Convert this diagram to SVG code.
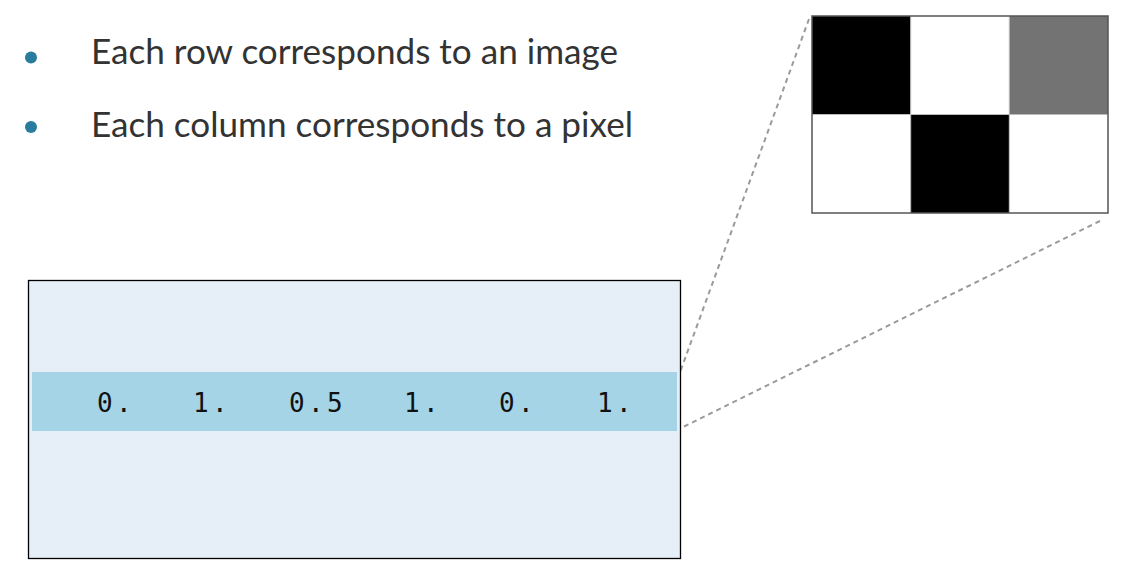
<svg xmlns="http://www.w3.org/2000/svg" width="1133" height="575" viewBox="0 0 1133 575">
<style>
.bul{fill:#2a7c9c}
.txt{font-family:Lato,"Open Sans",sans-serif;font-size:34px;fill:#333}
.num{font-family:"DejaVu Sans Mono",monospace;font-size:26px;fill:#111;letter-spacing:3.3px}
.dash{stroke:#9a9a9a;stroke-width:2;stroke-dasharray:5 4;fill:none}
</style>
<rect width="1133" height="575" fill="#fff"/>
<g id="bullets">
<circle class="bul" cx="31" cy="57.5" r="6"/>
<text class="txt" x="91" y="64" textLength="527" lengthAdjust="spacingAndGlyphs">Each row corresponds to an image</text>
<circle class="bul" cx="31" cy="127" r="6"/>
<text class="txt" x="91" y="137" textLength="542" lengthAdjust="spacingAndGlyphs">Each column corresponds to a pixel</text>
</g>
<g id="connectors">
<line class="dash" x1="809" y1="19" x2="679" y2="375"/>
<line class="dash" x1="1100" y1="221" x2="683" y2="427"/>
</g>
<g id="matrix">
<rect x="28.5" y="280.5" width="652" height="278" fill="#e6eff7" stroke="#000" stroke-width="1.3"/>
<rect x="32" y="372" width="645" height="59" fill="#a5d4e6"/>
<text class="num" x="97" y="412">0.</text>
<text class="num" x="193" y="412">1.</text>
<text class="num" x="289" y="412">0.5</text>
<text class="num" x="404" y="412">1.</text>
<text class="num" x="499" y="412">0.</text>
<text class="num" x="597" y="412">1.</text>
</g>
<g id="image">
<rect x="812" y="16" width="98.7" height="98.5" fill="#000"/>
<rect x="910.7" y="16" width="98.6" height="98.5" fill="#fff"/>
<rect x="1009.3" y="16" width="98.7" height="98.5" fill="#737373"/>
<rect x="812" y="114.5" width="98.7" height="98.5" fill="#fff"/>
<rect x="910.7" y="114.5" width="98.6" height="98.5" fill="#000"/>
<rect x="1009.3" y="114.5" width="98.7" height="98.5" fill="#fff"/>
<line x1="812" y1="114.5" x2="1108" y2="114.5" stroke="#bbb" stroke-width="1"/>
<line x1="910.7" y1="16" x2="910.7" y2="213" stroke="#bbb" stroke-width="1"/>
<line x1="1009.3" y1="16" x2="1009.3" y2="213" stroke="#bbb" stroke-width="1"/>
<rect x="812" y="16" width="296" height="197" fill="none" stroke="#555" stroke-width="1.5"/>
</g>
</svg>
